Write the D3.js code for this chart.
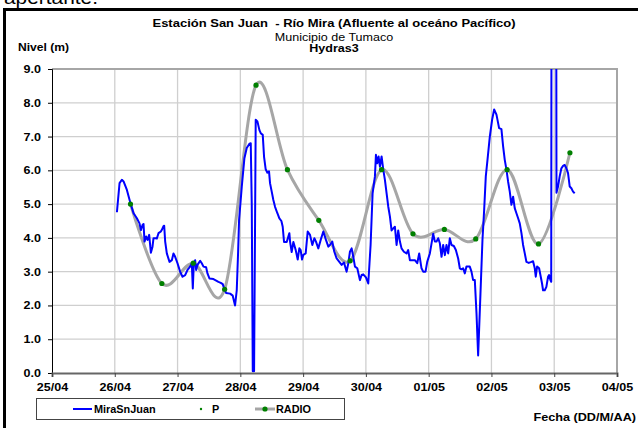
<!DOCTYPE html>
<html><head><meta charset="utf-8">
<script src="https://cdn.jsdelivr.net/npm/d3@7"></script>
<style>
html,body{margin:0;padding:0;background:#fff;}
svg{display:block;font-family:"Liberation Sans",Arial,sans-serif;}
</style></head>
<body>
<svg id="chart" width="638" height="428"></svg>
<script>
// ---- data ----
const baseDate = "2010-04-25";
const xTickDates = ["2010-04-25","2010-04-26","2010-04-27","2010-04-28","2010-04-29","2010-04-30","2010-05-01","2010-05-02","2010-05-03","2010-05-04"];
const xTickLabels = ["25/04","26/04","27/04","28/04","29/04","30/04","01/05","02/05","03/05","04/05"];
const yTicks = [0,1,2,3,4,5,6,7,8,9];
const seriesNames = ["MiraSnJuan","P","RADIO"];

// RADIO readings (days since 25/04 00:00)
const radioDays = [1.25,1.75,2.25,2.75,3.25,3.75,4.25,4.75,5.25,5.75,6.25,6.75,7.25,7.75,8.25];
const radioLevel = [5.0,2.65,3.25,2.48,8.52,6.02,4.52,3.32,6.02,4.12,4.25,3.97,6.02,3.82,6.52];
const pLevel = [];

// MiraSnJuan sensor (days since 25/04 00:00)
const miraDays = [1.034,1.076,1.113,1.140,1.193,1.251,1.299,1.352,1.394,1.416,1.442,1.458,1.474,1.500,1.522,1.548,1.575,1.601,1.617,1.654,1.670,1.697,1.734,1.750,1.776,1.787,1.803,1.829,1.872,1.909,1.935,1.962,1.999,2.041,2.079,2.121,2.158,2.200,2.227,2.243,2.259,2.280,2.296,2.317,2.360,2.386,2.413,2.455,2.476,2.508,2.572,2.651,2.688,2.720,2.742,2.773,2.837,2.879,2.916,2.943,2.965,2.980,3.023,3.065,3.102,3.145,3.166,3.182,3.198,3.219,3.233,3.245,3.272,3.304,3.325,3.357,3.378,3.404,3.431,3.457,3.473,3.500,3.526,3.553,3.590,3.622,3.654,3.675,3.696,3.739,3.781,3.792,3.818,3.845,3.882,3.914,3.940,3.961,3.983,4.004,4.041,4.073,4.110,4.147,4.179,4.205,4.242,4.280,4.322,4.364,4.402,4.428,4.465,4.497,4.534,4.577,4.614,4.651,4.677,4.693,4.720,4.746,4.773,4.799,4.826,4.863,4.905,4.932,4.958,5.001,5.038,5.075,5.107,5.144,5.160,5.181,5.202,5.224,5.250,5.277,5.303,5.330,5.356,5.383,5.409,5.436,5.462,5.489,5.515,5.542,5.568,5.605,5.648,5.674,5.701,5.738,5.780,5.818,5.849,5.886,5.913,5.950,5.977,6.019,6.046,6.072,6.099,6.125,6.152,6.178,6.205,6.231,6.258,6.284,6.311,6.337,6.364,6.401,6.433,6.470,6.496,6.523,6.549,6.576,6.602,6.655,6.682,6.708,6.735,6.762,6.788,6.825,6.857,6.884,6.910,6.937,6.974,7.011,7.043,7.080,7.122,7.159,7.186,7.212,7.239,7.265,7.292,7.318,7.345,7.371,7.398,7.425,7.451,7.478,7.504,7.531,7.557,7.594,7.637,7.663,7.690,7.706,7.727,7.759,7.780,7.806,7.822,7.849,7.875,7.902,7.918,7.939,7.952,7.958,8.030,8.036,8.061,8.087,8.114,8.141,8.167,8.194,8.220,8.247,8.273,8.300,8.326];
const miraLevel = [4.76,5.62,5.72,5.67,5.42,5.02,4.73,4.58,4.43,4.23,4.38,4.41,3.89,4.04,3.94,4.09,3.56,3.74,3.99,3.99,3.98,4.14,4.19,4.24,4.35,4.36,3.89,3.54,3.29,3.34,3.54,3.44,3.25,3.00,2.85,2.90,3.05,3.15,3.25,2.50,3.25,3.34,3.05,3.20,3.32,3.25,3.15,3.13,2.95,2.80,2.78,2.70,2.67,2.63,2.50,2.37,2.35,2.29,2.00,2.45,3.60,4.53,5.52,6.36,6.66,6.79,6.80,5.00,0.05,0.05,4.00,7.50,7.45,7.19,7.10,7.05,6.40,6.03,5.93,5.97,5.62,5.37,5.12,4.92,4.73,4.58,4.50,4.33,3.88,3.88,4.14,3.89,3.58,3.88,3.64,3.36,3.69,3.64,3.36,3.50,3.54,4.19,4.09,3.79,3.99,3.89,3.69,3.94,4.19,3.94,3.74,3.79,3.89,3.59,3.39,3.29,3.20,3.27,3.10,3.00,3.25,3.59,3.69,3.44,3.15,3.10,2.75,2.90,2.92,2.83,2.65,3.79,5.32,5.82,6.46,6.21,6.41,6.11,6.41,6.02,5.72,5.32,4.93,4.63,4.22,4.28,4.33,3.79,4.22,3.89,3.69,3.59,3.54,3.64,3.34,3.34,3.34,3.25,3.54,3.10,3.00,3.00,3.29,3.54,3.84,4.12,3.89,3.89,3.99,3.84,3.44,3.79,3.49,3.79,3.54,3.99,3.79,3.76,3.64,3.39,3.10,3.07,3.10,2.95,3.15,3.15,3.00,2.75,2.75,1.76,0.52,2.35,3.94,4.83,5.82,6.31,7.00,7.50,7.80,7.65,7.25,7.22,6.71,6.31,6.02,5.67,5.37,4.98,5.22,4.88,4.73,4.58,4.43,4.14,3.79,3.54,3.29,3.26,3.29,3.31,3.10,2.85,3.15,3.10,2.90,2.65,2.45,2.45,2.55,2.85,2.90,2.75,2.70,14.0,14.0,5.34,5.52,5.82,6.06,6.13,6.16,6.06,5.92,5.52,5.47,5.37,5.32];

// ---- drawing ----
const svg = d3.select("#chart");
const FONT = '"Liberation Sans",Arial,sans-serif';
const SX = 1.14; // horizontal text stretch seen in the reference
const dayMs = 864e5;
const t0 = Date.parse(baseDate + "T00:00:00Z");
const toDate = d => new Date(t0 + d * dayMs);
const pL = 52, pR = 617, pT = 69, pB = 373;

const tickDates = xTickDates.map(s => new Date(Date.parse(s + "T00:00:00Z")));
const x = d3.scaleUtc().domain([tickDates[0], tickDates[tickDates.length - 1]]).range([pL, pR]);
const y = d3.scaleLinear().domain([0, 9]).range([pB, pT]);

function label(px, py, txt, opts) {
  const o = Object.assign({ size: 11, bold: false, anchor: "start", sx: SX }, opts || {});
  return svg.append("text")
    .attr("transform", `translate(${px},${py}) scale(${o.sx},1)`)
    .attr("text-anchor", o.anchor).attr("font-size", o.size)
    .attr("font-weight", o.bold ? "bold" : "normal").attr("fill", "#000")
    .style("white-space", "pre").text(txt);
}

// clipped top text
label(4, 4, "apertante.", { size: 18, sx: 1.16 });

// outer frame
svg.append("path").attr("d", "M4.5,428 L4.5,9.5 L640,9.5").attr("fill", "none").attr("stroke", "#000").attr("stroke-width", 3);

// gridlines
svg.append("g").selectAll("line").data(yTicks.filter(v => v > 0 && v < 9)).join("line")
  .attr("x1", pL).attr("x2", pR).attr("y1", d => y(d)).attr("y2", d => y(d))
  .attr("stroke", "#cfcfcf").attr("stroke-width", 1.3);
svg.append("g").selectAll("line").data(tickDates.slice(1, -1)).join("line")
  .attr("x1", d => x(d)).attr("x2", d => x(d)).attr("y1", pT).attr("y2", pB)
  .attr("stroke", "#cfcfcf").attr("stroke-width", 1.3);

// plot frame top / right
svg.append("path").attr("d", `M${pL},${pT} L${pR},${pT} L${pR},${pB}`)
  .attr("fill", "none").attr("stroke", "#a6a6a6").attr("stroke-width", 2);

// clip
svg.append("clipPath").attr("id", "clip").append("rect")
  .attr("x", pL).attr("y", pT).attr("width", pR - pL).attr("height", pB - pT);

// RADIO smooth line
const radioData = radioDays.map((d, i) => ({ t: toDate(d), v: radioLevel[i] }));
svg.append("path").datum(radioData)
  .attr("d", d3.line().x(d => x(d.t)).y(d => y(d.v)).curve(d3.curveCardinal.tension(0)))
  .attr("fill", "none").attr("stroke", "#a6a6a6").attr("stroke-width", 3);

// Mira line
const miraData = miraDays.map((d, i) => ({ t: toDate(d), v: miraLevel[i] }));
svg.append("path").datum(miraData).attr("clip-path", "url(#clip)")
  .attr("d", d3.line().x(d => x(d.t)).y(d => y(d.v)))
  .attr("fill", "none").attr("stroke", "#0000ff").attr("stroke-width", 2).attr("stroke-linejoin", "round");

// RADIO markers
svg.append("g").selectAll("circle").data(radioData).join("circle")
  .attr("cx", d => x(d.t)).attr("cy", d => y(d.v)).attr("r", 2.6).attr("fill", "#008000");
// P markers (none visible)
svg.append("g").selectAll("circle").data(pLevel).join("circle")
  .attr("cx", d => x(toDate(d[0]))).attr("cy", d => y(d[1])).attr("r", 1).attr("fill", "#008000");

// axes
const yAxis = svg.append("g").attr("transform", `translate(${pL},0)`)
  .call(d3.axisLeft(y).tickValues(yTicks).tickFormat(d3.format(".1f")).tickSize(4).tickPadding(6));
yAxis.select(".domain").attr("stroke", "#000").attr("stroke-width", 1);
yAxis.selectAll(".tick line").attr("stroke", "#000");
yAxis.selectAll("text").attr("font-size", 11).attr("font-weight", "bold").attr("fill", "#000")
  .attr("font-family", FONT).attr("x", -11 / SX).attr("transform", `scale(${SX},1)`);

const xAxis = svg.append("g").attr("transform", `translate(0,${pB})`)
  .call(d3.axisBottom(x).tickValues(tickDates).tickFormat((d, i) => xTickLabels[i]).tickSize(4).tickPadding(6));
xAxis.select(".domain").attr("stroke", "#666").attr("stroke-width", 2);
xAxis.selectAll(".tick line").attr("stroke", "#444");
xAxis.selectAll("text").attr("font-size", 11).attr("font-weight", "bold").attr("fill", "#000")
  .attr("font-family", FONT).attr("transform", `scale(${SX},1)`);

// titles
label(334, 27, "Estación San Juan  - Río Mira (Afluente al oceáno Pacífico)", { size: 11.5, bold: true, anchor: "middle", sx: 1.13 });
label(334, 40.5, "Municipio de Tumaco", { size: 11, anchor: "middle" });
label(334, 52, "Hydras3", { size: 11, bold: true, anchor: "middle" });
label(18, 51, "Nivel (m)", { size: 11, bold: true, sx: 1.1 });
label(636, 421, "Fecha (DD/M/AA)", { size: 11, bold: true, anchor: "end", sx: 1.15 });

// legend
const lg = svg.append("g");
lg.append("rect").attr("x", 36.5).attr("y", 398.5).attr("width", 308).attr("height", 21).attr("fill", "#fff").attr("stroke", "#444").attr("stroke-width", 1);
const ly = 409;
lg.append("line").attr("x1", 73).attr("x2", 92).attr("y1", ly).attr("y2", ly).attr("stroke", "#0000ff").attr("stroke-width", 2);
lg.append("line").attr("x1", 255).attr("x2", 275).attr("y1", ly).attr("y2", ly).attr("stroke", "#a6a6a6").attr("stroke-width", 3);
lg.append("circle").attr("cx", 201).attr("cy", ly).attr("r", 1.2).attr("fill", "#008000");
lg.append("circle").attr("cx", 265).attr("cy", ly).attr("r", 2.6).attr("fill", "#008000");
label(94, ly + 3.5, seriesNames[0], { size: 10, bold: true, sx: 1.09 });
label(212, ly + 3.5, seriesNames[1], { size: 10, bold: true, sx: 1.09 });
label(276, ly + 3.5, seriesNames[2], { size: 10, bold: true, sx: 1.09 });
</script>
</body></html>
